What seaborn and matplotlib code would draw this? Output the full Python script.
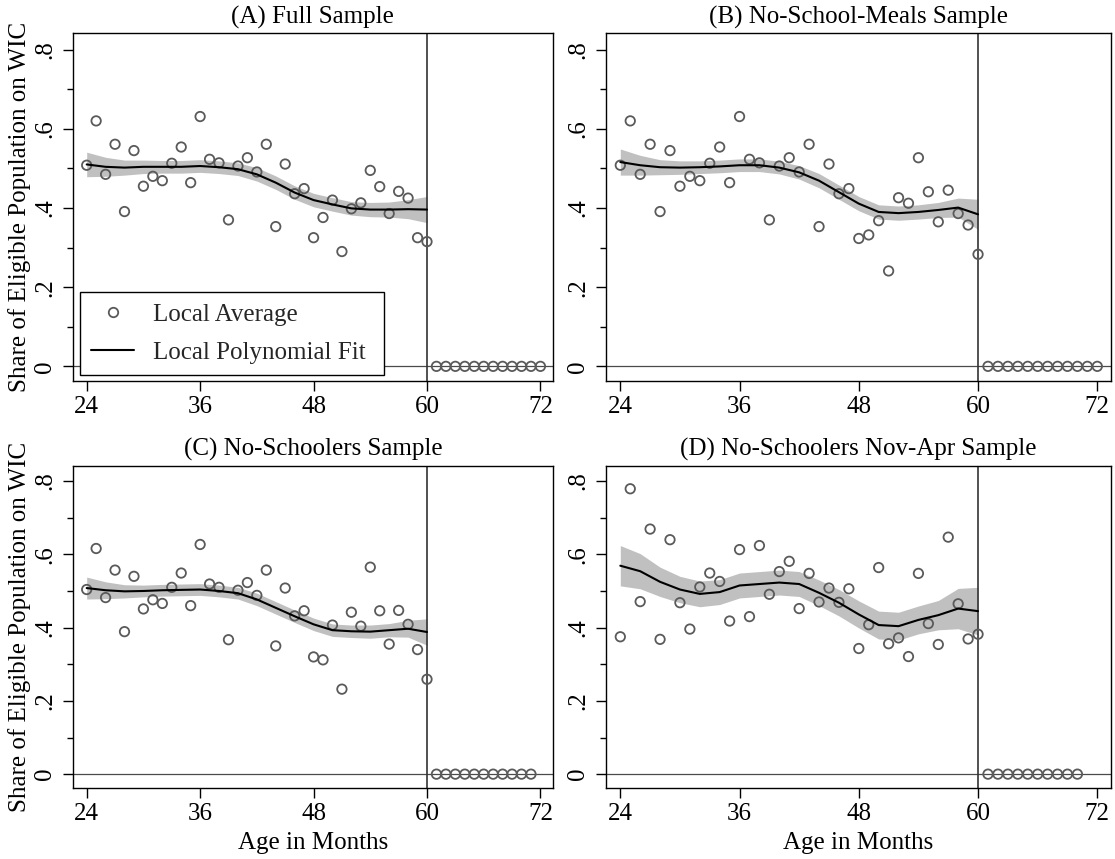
import numpy as np
import pandas as pd
import matplotlib
matplotlib.use("Agg")
import matplotlib.pyplot as plt
import seaborn as sns
from matplotlib.lines import Line2D

# ---------------- data ----------------
months = [24, 25, 26, 27, 28, 29, 30, 31, 32, 33, 34, 35, 36, 37, 38, 39, 40, 41, 42,
          43, 44, 45, 46, 47, 48, 49, 50, 51, 52, 53, 54, 55, 56, 57, 58, 59, 60]

avg_a = [0.508, 0.620, 0.485, 0.561, 0.391, 0.545, 0.455, 0.480, 0.469, 0.513, 0.554, 0.464,
         0.631, 0.523, 0.514, 0.370, 0.506, 0.527, 0.491, 0.561, 0.353, 0.511, 0.436, 0.449,
         0.325, 0.376, 0.420, 0.290, 0.398, 0.413, 0.495, 0.454, 0.386, 0.442, 0.425, 0.325, 0.315]
avg_b = [0.508, 0.620, 0.485, 0.561, 0.391, 0.545, 0.455, 0.480, 0.469, 0.513, 0.554, 0.464,
         0.631, 0.523, 0.514, 0.370, 0.506, 0.527, 0.491, 0.561, 0.353, 0.511, 0.436, 0.449,
         0.323, 0.332, 0.368, 0.241, 0.426, 0.412, 0.527, 0.441, 0.365, 0.445, 0.386, 0.357, 0.283]
avg_c = [0.504, 0.616, 0.482, 0.557, 0.389, 0.540, 0.451, 0.476, 0.466, 0.510, 0.549, 0.460,
         0.627, 0.519, 0.510, 0.367, 0.502, 0.523, 0.488, 0.557, 0.350, 0.508, 0.432, 0.446,
         0.320, 0.312, 0.407, 0.232, 0.442, 0.404, 0.565, 0.446, 0.355, 0.447, 0.409, 0.340, 0.259]
avg_d = [0.375, 0.779, 0.471, 0.669, 0.368, 0.640, 0.468, 0.396, 0.511, 0.549, 0.526, 0.418,
         0.613, 0.430, 0.624, 0.491, 0.553, 0.581, 0.452, 0.548, 0.470, 0.508, 0.469, 0.506,
         0.343, 0.408, 0.564, 0.356, 0.372, 0.321, 0.548, 0.411, 0.354, 0.647, 0.465, 0.369, 0.382]

after_a = [61, 62, 63, 64, 65, 66, 67, 68, 69, 70, 71, 72]
after_b = [61, 62, 63, 64, 65, 66, 67, 68, 69, 70, 71, 72]
after_c = [61, 62, 63, 64, 65, 66, 67, 68, 69, 70, 71]
after_d = [61, 62, 63, 64, 65, 66, 67, 68, 69, 70]
zeros_a = [0, 0, 0, 0, 0, 0, 0, 0, 0, 0, 0, 0]
zeros_b = [0, 0, 0, 0, 0, 0, 0, 0, 0, 0, 0, 0]
zeros_c = [0, 0, 0, 0, 0, 0, 0, 0, 0, 0, 0]
zeros_d = [0, 0, 0, 0, 0, 0, 0, 0, 0, 0]

fit_months = [24, 26, 28, 30, 32, 34, 36, 38, 40, 42, 44, 46, 48, 50, 52, 54, 56, 58, 60]
fit_a = [0.510, 0.504, 0.502, 0.504, 0.504, 0.504, 0.506, 0.503, 0.498, 0.485, 0.464, 0.439,
         0.420, 0.409, 0.399, 0.396, 0.396, 0.397, 0.396]
fit_b = [0.516, 0.508, 0.503, 0.502, 0.503, 0.505, 0.508, 0.508, 0.502, 0.490, 0.469, 0.440,
         0.411, 0.390, 0.387, 0.390, 0.395, 0.401, 0.384]
fit_c = [0.508, 0.502, 0.499, 0.500, 0.502, 0.503, 0.504, 0.500, 0.494, 0.477, 0.454, 0.431,
         0.409, 0.393, 0.390, 0.389, 0.393, 0.397, 0.388]
fit_d = [0.569, 0.554, 0.525, 0.504, 0.492, 0.497, 0.515, 0.519, 0.523, 0.519, 0.495, 0.468,
         0.436, 0.407, 0.404, 0.421, 0.434, 0.452, 0.445]
ci_a = [0.031, 0.024, 0.019, 0.017, 0.016, 0.016, 0.016, 0.016, 0.016, 0.017, 0.017, 0.017,
        0.017, 0.017, 0.017, 0.018, 0.019, 0.024, 0.033]
ci_b = [0.033, 0.025, 0.019, 0.017, 0.016, 0.016, 0.016, 0.016, 0.016, 0.017, 0.018, 0.018,
        0.018, 0.018, 0.018, 0.018, 0.019, 0.024, 0.038]
ci_c = [0.030, 0.023, 0.018, 0.016, 0.016, 0.016, 0.016, 0.016, 0.016, 0.017, 0.017, 0.017,
        0.017, 0.017, 0.017, 0.018, 0.018, 0.023, 0.036]
ci_d = [0.055, 0.048, 0.040, 0.036, 0.035, 0.034, 0.034, 0.034, 0.034, 0.034, 0.035, 0.036,
        0.037, 0.038, 0.038, 0.038, 0.040, 0.055, 0.065]

titles = ["(A) Full Sample", "(B) No-School-Meals Sample",
          "(C) No-Schoolers Sample", "(D) No-Schoolers Nov-Apr Sample"]
x_ticks = [24, 36, 48, 60, 72]
y_ticks = [0, 0.2, 0.4, 0.6, 0.8]
y_tick_labels = ["0", ".2", ".4", ".6", ".8"]
y_minor = [0.1, 0.3, 0.5, 0.7]
y_title = "Share of Eligible Population on WIC"
x_title = "Age in Months"
legend_labels = ["Local Average", "Local Polynomial Fit"]

# ---------------- style ----------------
sns.set_theme(style="ticks")
plt.rcParams["font.family"] = ["Liberation Serif", "DejaVu Serif"]
plt.rcParams["font.size"] = 18

W, H = 1115, 859
fig = plt.figure(figsize=(W / 100, H / 100), dpi=100)
fig.patch.set_facecolor("white")


def rect(l, r, t, b):
    return [l / W, (H - b) / H, (r - l) / W, (b - t) / H]


panels = [
    (rect(72.7, 553, 33, 381), avg_a, after_a, zeros_a, fit_a, ci_a),
    (rect(605.6, 1110.5, 33, 381), avg_b, after_b, zeros_b, fit_b, ci_b),
    (rect(72.7, 553, 465.7, 787.7), avg_c, after_c, zeros_c, fit_c, ci_c),
    (rect(605.6, 1110.5, 465.7, 787.7), avg_d, after_d, zeros_d, fit_d, ci_d),
]

PT_COL = "#5a5a5a"
BAND_COL = "#c0c0c0"

for i, (r, avg, after, zeros, fit, ci) in enumerate(panels):
    ax = fig.add_axes(r)
    ax.set_facecolor("white")
    fm = np.array(fit_months)
    f = np.array(fit)
    c = np.array(ci)
    ax.fill_between(fm, f - c, f + c, color=BAND_COL, lw=0, zorder=1)
    ax.axhline(0, color="#4a4a4a", lw=0.9, zorder=0.5)
    ax.axvline(60, color="#333333", lw=1.2, zorder=1.5)
    df = pd.DataFrame({"month": months + after, "share": avg + zeros})
    sns.scatterplot(data=df, x="month", y="share", ax=ax, marker="o", s=46,
                    facecolor="none", edgecolor=PT_COL, linewidth=1.3, zorder=2)
    sns.lineplot(x=fit_months, y=fit, ax=ax, color="black", lw=1.5, zorder=3)

    ax.set_xlim(22.52, 73.33)
    ax.set_ylim(-0.037, 0.842)
    ax.set_xticks(x_ticks)
    ax.set_xticklabels([str(t) for t in x_ticks])
    ax.set_yticks(y_ticks)
    ax.set_yticklabels(y_tick_labels)
    ax.set_yticks(y_minor, minor=True)
    ax.tick_params(axis="both", which="major", direction="out", length=7, width=1.0,
                   color="black", labelsize=18, labelcolor="black")
    ax.tick_params(axis="x", which="major", pad=4)
    ax.tick_params(axis="y", which="major", pad=8.5)
    ax.tick_params(axis="y", which="minor", direction="out", length=4, width=1.0, color="black")
    plt.setp(ax.get_yticklabels(), rotation=90, rotation_mode="anchor",
             ha="center", va="baseline")
    for s in ax.spines.values():
        s.set_visible(True)
        s.set_color("black")
        s.set_linewidth(1.0)
    ax.set_title(titles[i], fontsize=18, pad=7, color="black")
    if i in (0, 2):
        ax.set_ylabel(y_title, fontsize=18, color="black")
        ax.yaxis.set_label_coords(-0.086, 0.5)
    else:
        ax.set_ylabel("")
    if i in (2, 3):
        ax.set_xlabel(x_title, fontsize=18, color="black", labelpad=5)
    else:
        ax.set_xlabel("")
    if ax.get_legend() is not None:
        ax.get_legend().remove()
    if i == 0:
        handles = [
            Line2D([], [], marker="o", linestyle="none", markersize=6.8,
                   markerfacecolor="none", markeredgecolor=PT_COL, markeredgewidth=1.3),
            Line2D([], [], color="black", lw=1.5),
        ]
        leg = ax.legend(handles, legend_labels, loc="upper left",
                        bbox_to_anchor=(0.0152, 0.2557, 0.633, 0.0), mode="expand",
                        borderaxespad=0, frameon=True, fancybox=False, framealpha=1,
                        edgecolor="black", handlelength=1.7, handletextpad=0.75,
                        labelspacing=0.62, borderpad=0.45, fontsize=18)
        leg.get_frame().set_linewidth(1.0)
        leg.set_zorder(10)

fig.savefig("out.png", dpi=100, facecolor="white")
